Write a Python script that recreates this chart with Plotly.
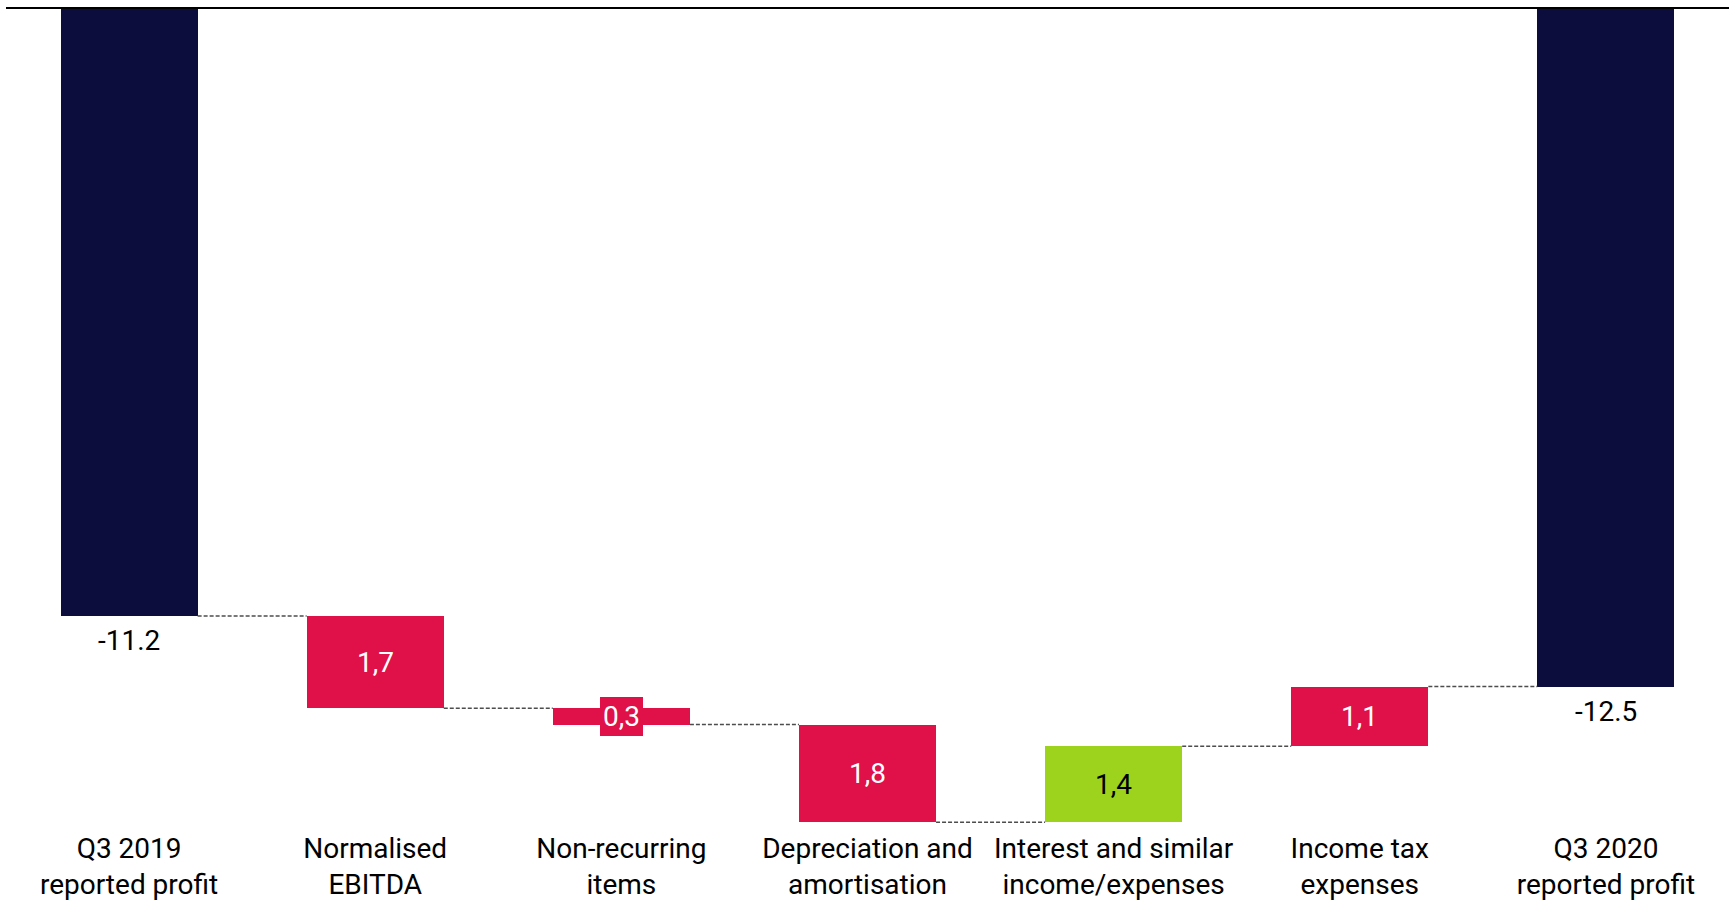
import plotly.graph_objects as go

# Bridge from Q3 2019 to Q3 2020 reported profit
categories = [
    "Q3 2019<br>reported profit",
    "Normalised<br>EBITDA",
    "Non-recurring<br>items",
    "Depreciation and<br>amortisation",
    "Interest and similar<br>income/expenses",
    "Income tax<br>expenses",
    "Q3 2020<br>reported profit",
]
start_total = -11.2
changes = [-1.7, -0.3, -1.8, 1.4, 1.1]
end_total = -12.5

NAVY = "#0D0D3D"
RED = "#E01048"
GREEN = "#9DD31C"
bar_colors = [NAVY, RED, RED, RED, GREEN, RED, NAVY]
label_colors = ["#000000", "#FFFFFF", "#FFFFFF", "#FFFFFF", "#000000", "#FFFFFF", "#000000"]

FONT = "Roboto"
FS = 28
BAR_W = 0.557

# bases and heights of the floating bars
bases, heights, levels = [0], [start_total], [start_total]
running = start_total
for c in changes:
    bases.append(running)
    heights.append(c)
    running += c
    levels.append(running)
bases.append(0)
heights.append(end_total)

xs = list(range(len(categories)))

fig = go.Figure()
fig.add_trace(go.Bar(
    x=xs, y=heights, base=bases, width=BAR_W,
    marker=dict(color=bar_colors, line=dict(width=0)),
    hoverinfo="skip", showlegend=False,
))

# dashed connectors between consecutive bars
cx, cy = [], []
for i, lvl in enumerate(levels):
    cx += [i + BAR_W / 2, i + 1 - BAR_W / 2, None]
    cy += [lvl, lvl, None]
fig.add_trace(go.Scatter(
    x=cx, y=cy, mode="lines",
    line=dict(color="#4d4d4d", width=1.5, dash="4px,2px"),
    hoverinfo="skip", showlegend=False,
))

annotations = []
for i in xs:
    b, h = bases[i], heights[i]
    if i in (0, len(xs) - 1):
        annotations.append(dict(
            x=i, y=b + h, text=f"{h:.1f}", showarrow=False,
            yanchor="top", yshift=-6,
            font=dict(family=FONT, size=FS, color=label_colors[i]),
        ))
    else:
        txt = f"{abs(h):.1f}".replace(".", ",")
        small = abs(h) < 0.5
        annotations.append(dict(
            x=i, y=b + h / 2, text=txt, showarrow=False,
            yanchor="middle", xanchor="center",
            font=dict(family=FONT, size=FS, color=label_colors[i]),
            bgcolor=bar_colors[i] if small else None,
            borderpad=3, borderwidth=0,
        ))

fig.update_layout(
    width=1729, height=902,
    margin=dict(l=6, r=0, t=8, b=74),
    paper_bgcolor="white", plot_bgcolor="white",
    bargap=0,
    annotations=annotations,
    shapes=[dict(type="line", xref="paper", yref="paper", x0=0, x1=1, y0=1, y1=1,
                 line=dict(color="#000000", width=2))],
    font=dict(family=FONT, size=FS, color="#000000"),
)
fig.update_xaxes(
    range=[-0.5, len(xs) - 0.5], tickvals=xs, ticktext=categories,
    showgrid=False, zeroline=False, showline=False, ticks="",
    ticklabelstandoff=1,
    tickfont=dict(family=FONT, size=FS, color="#000000"),
)
fig.update_yaxes(
    range=[-(826 - 8) / 54.15, 0], visible=False, showgrid=False, zeroline=False,
)

fig.write_html("out.html")
